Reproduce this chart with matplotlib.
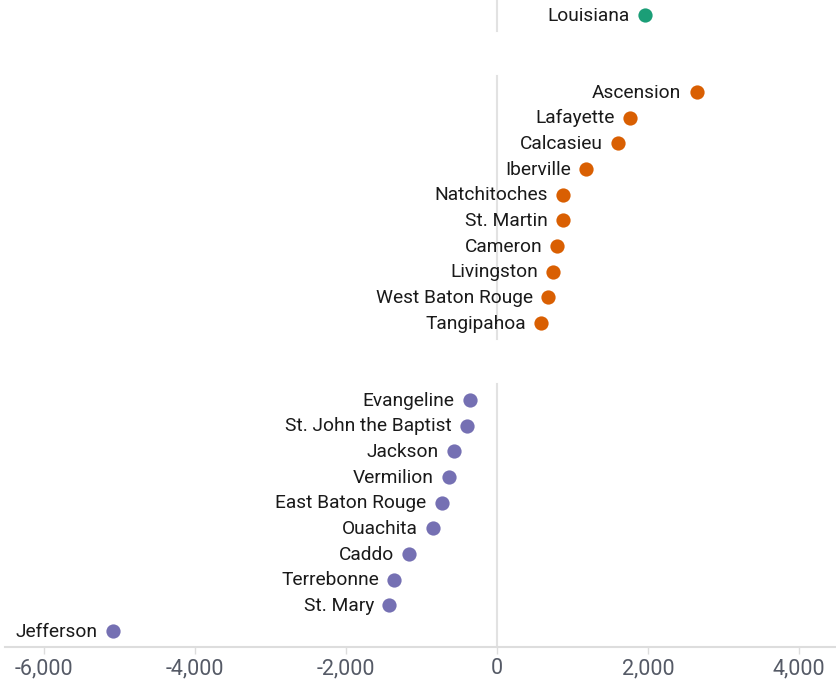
import matplotlib
matplotlib.use("Agg")
import matplotlib.pyplot as plt

plt.rcParams['font.family'] = ['Roboto', 'DejaVu Sans']

# data
state_names = ["Louisiana"]
state_values = [1960]

top_names = ["Ascension", "Lafayette", "Calcasieu", "Iberville", "Natchitoches",
             "St. Martin", "Cameron", "Livingston", "West Baton Rouge", "Tangipahoa"]
top_values = [2645, 1762, 1607, 1179, 878, 870, 799, 746, 680, 583]

bottom_names = ["Evangeline", "St. John the Baptist", "Jackson", "Vermilion",
                "East Baton Rouge", "Ouachita", "Caddo", "Terrebonne", "St. Mary", "Jefferson"]
bottom_values = [-358, -402, -566, -632, -733, -844, -1162, -1364, -1426, -5090]

xticks = [-6000, -4000, -2000, 0, 2000, 4000]

groups = [
    (state_names, state_values, "#1b9e77"),
    (top_names, top_values, "#d95f02"),
    (bottom_names, bottom_values, "#7570b3"),
]

fig = plt.figure(figsize=(8.36, 6.81), dpi=100)
ax = fig.add_axes([5 / 836, 34 / 681, 831 / 836, 647 / 681])

row = 0
for names, values, color in groups:
    start = row
    rows = list(range(row, row + len(names)))
    # light zero rule behind each group
    ax.plot([0, 0], [start - 0.62, rows[-1] + 0.62], color="#e2e2e2", lw=1.5, zorder=1)
    ax.scatter(values, rows, s=105, color=color, zorder=3, linewidths=0)
    for name, v, r in zip(names, values, rows):
        ax.annotate(name, (v, r), xytext=(-11, -0.5), textcoords="offset points",
                    ha="right", va="center", fontsize=13.8, color="#1a1a1a")
    row += len(names) + 2

ax.set_xlim(-6517, 4490)
ax.set_ylim(24.62, -0.584)
ax.set_yticks([])
ax.set_xticks(xticks)
ax.set_xticklabels([f"{t:,}" for t in xticks])
ax.tick_params(axis="x", length=5, width=1, color="#dddddd", labelcolor="#555a66",
               labelsize=15.5, pad=3)
for side in ["top", "left", "right"]:
    ax.spines[side].set_visible(False)
ax.spines["bottom"].set_color("#dddddd")
ax.spines["bottom"].set_linewidth(1.5)

fig.savefig("out.png", dpi=100)
